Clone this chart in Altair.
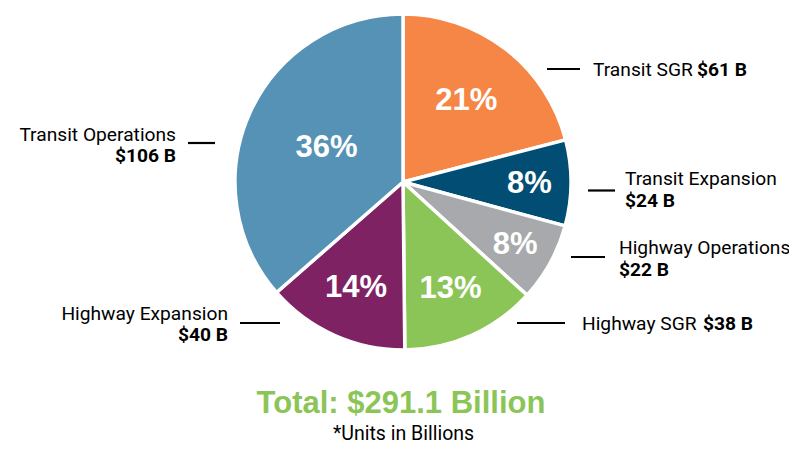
import altair as alt
import pandas as pd

# ---------------- data ----------------
categories = ["Transit SGR", "Transit Expansion", "Highway Operations",
              "Highway SGR", "Highway Expansion", "Transit Operations"]
values = [61, 24, 22, 38, 40, 106]
percents = ["21%", "8%", "8%", "13%", "14%", "36%"]
amounts = ["$61 B", "$24 B", "$22 B", "$38 B", "$40 B", "$106 B"]
colors = ["#F58646", "#024D73", "#A7A9AC", "#8CC557", "#7E2264", "#5592B6"]
total_text = "Total: $291.1 Billion"
note_text = "*Units in Billions"

df = pd.DataFrame({
    "category": categories,
    "value": values,
    "pct": percents,
    "order": list(range(len(categories))),
})

# ---------------- layout ----------------
W, H = 781, 435
CX, CY = 395, 174
R = 168
NARROW = "Roboto, DejaVu Sans Condensed, sans-serif"
BOLDF = "Liberation Sans, Arial, Helvetica, sans-serif"
GREEN = "#8CC557"
LFS = 19.2

base = alt.Chart(df).encode(
    theta=alt.Theta("value:Q", stack=True),
    order=alt.Order("order:Q"),
)

pie = base.mark_arc(radius=R, stroke="white", strokeWidth=3.5).encode(
    color=alt.Color("category:N", scale=alt.Scale(domain=categories, range=colors), legend=None),
    x=alt.value(CX),
    y=alt.value(CY),
)

pct = base.mark_text(font=BOLDF, fontSize=31, fontWeight="bold", color="white",
                     align="center", baseline="middle").encode(
    text="pct:N",
    radius=alt.Radius("value:Q", scale=alt.Scale(type="sqrt", zero=False,
                                                  domain=[22, 106], range=[128, 84])),
    x=alt.value(CX),
    y=alt.value(CY + 1),
)

# annotation (label placement) table
ann = pd.DataFrame({
    "category": categories,
    "amount": amounts,
    "lx1": [539, 580, 563, 509, 232, 180],
    "lx2": [572, 607, 597, 557, 272, 207],
    "ly": [61, 182.5, 249, 315, 315, 135],
    "tx": [585, 617, 611, 574, 220, 168],
    "ty": [61.5, 171, 239.5, 315.5, 306, 126.5],
    "bx": [689, 617, 611, 695, 220, 168],
    "by": [61.5, 192.5, 262, 315.5, 327, 148],
    "side": ["left", "left", "left", "left", "right", "right"],
})

lines = alt.Chart(ann).mark_rule(color="black", strokeWidth=2.2).encode(
    x=alt.X("lx1:Q", scale=None, axis=None),
    x2="lx2:Q",
    y=alt.Y("ly:Q", scale=None, axis=None),
)

def label_layer(side, bold):
    fx, fy, ftext = ("bx", "by", "amount") if bold else ("tx", "ty", "category")
    return alt.Chart(ann).transform_filter(
        alt.datum.side == side
    ).mark_text(
        font=NARROW, fontSize=LFS, fontWeight="bold" if bold else "normal",
        color="black", align=side, baseline="middle",
    ).encode(
        x=alt.X(f"{fx}:Q", scale=None, axis=None),
        y=alt.Y(f"{fy}:Q", scale=None, axis=None),
        text=f"{ftext}:N",
    )

total = alt.Chart(pd.DataFrame({"t": [total_text]})).mark_text(
    font=BOLDF, fontSize=31, fontWeight="bold", color=GREEN, align="center", baseline="middle"
).encode(text="t:N", x=alt.value(393), y=alt.value(396))

note = alt.Chart(pd.DataFrame({"t": [note_text]})).mark_text(
    font=NARROW, fontSize=19.5, color="black", align="center", baseline="middle"
).encode(text="t:N", x=alt.value(395.5), y=alt.value(425.5))

chart = alt.layer(
    pie, pct, lines,
    label_layer("left", False), label_layer("left", True),
    label_layer("right", False), label_layer("right", True),
    total, note,
).properties(
    width=W, height=H, padding=0, background="white",
    autosize=alt.AutoSizeParams(type="none"),
).configure_view(stroke=None)

chart.save("out.html", embed_options={"renderer": "svg", "actions": False})
